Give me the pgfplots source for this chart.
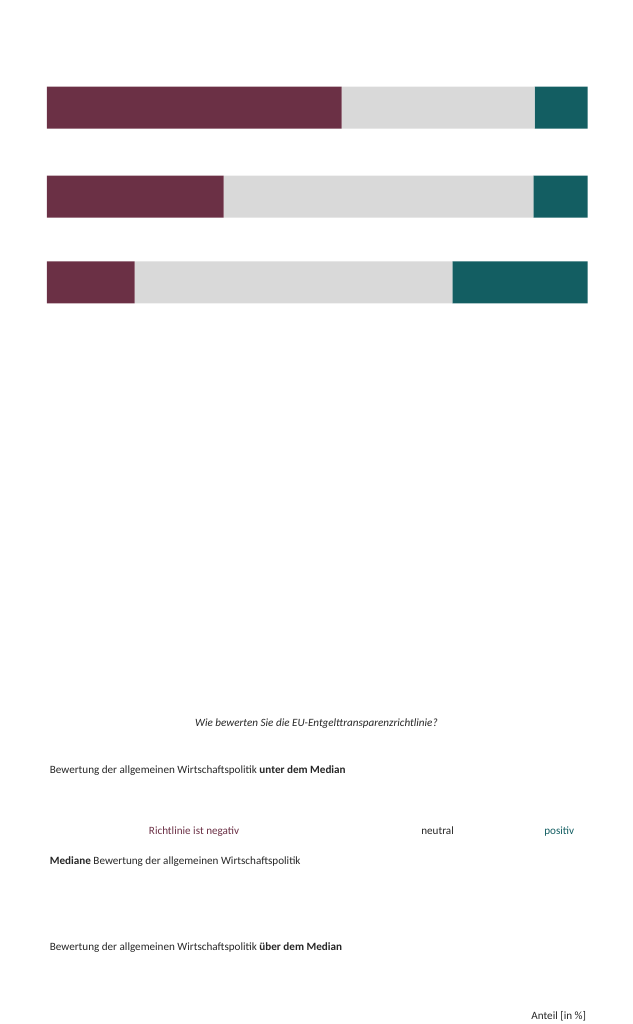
\documentclass[border=0pt]{standalone}
\usepackage{pgfplots}
\pgfplotsset{compat=1.18}
\usepackage{fontspec}
\setmainfont{Carlito}
\definecolor{neg}{HTML}{6B3045}
\definecolor{neu}{HTML}{D9D9D9}
\definecolor{pos}{HTML}{135E62}
\definecolor{txt}{HTML}{262626}
\begin{document}
\begin{tikzpicture}
\path (0,0) rectangle (768pt,422.25pt);
\begin{axis}[at={(57pt,54pt)},anchor=south west,scale only axis,
 width=656pt,height=263.25pt,xmin=0,xmax=100,ymin=-491,ymax=-140,
 hide axis,xbar stacked,bar width=51pt,clip=false]
\addplot[fill=neg,draw=none] coordinates {(54.5,-174) (32.7,-318) (16.2,-457)};
\addplot[fill=neu,draw=none] coordinates {(35.7,-174) (57.3,-318) (58.8,-457)};
\addplot[fill=pos,draw=none] coordinates {(9.8,-174) (10.0,-318) (25.0,-457)};
\node[white,font=\fontsize{13.5}{15}\selectfont] at (axis cs:27.25,-174) {54,5};
\node[txt,font=\fontsize{13.5}{15}\selectfont] at (axis cs:72.35,-174) {35,7};
\node[white,font=\fontsize{13.5}{15}\selectfont] at (axis cs:95.1,-174) {9,8};
\node[white,font=\fontsize{13.5}{15}\selectfont] at (axis cs:16.35,-318) {32,7};
\node[txt,font=\fontsize{13.5}{15}\selectfont] at (axis cs:61.7,-318) {57,3};
\node[white,font=\fontsize{13.5}{15}\selectfont] at (axis cs:95,-318) {10,0};
\node[white,font=\fontsize{13.5}{15}\selectfont] at (axis cs:8.1,-457) {16,2};
\node[txt,font=\fontsize{13.5}{15}\selectfont] at (axis cs:45.6,-457) {58,8};
\node[white,font=\fontsize{13.5}{15}\selectfont] at (axis cs:87.5,-457) {25,0};
\end{axis}
\begin{scope}[x=0.75pt,y=-0.75pt,shift={(0,563)},every node/.style={font=\fontsize{13.5}{15}\selectfont,text=txt}]
\node at (512,45) {\itshape Wie bewerten Sie die EU-Entgelttransparenzrichtlinie?};
\node[anchor=base west] at (76,125) {Bewertung der allgemeinen Wirtschaftspolitik \textbf{unter dem Median}};
\node[anchor=base west] at (76,272) {\textbf{Mediane} Bewertung der allgemeinen Wirtschaftspolitik};
\node[anchor=base west] at (76,412) {Bewertung der allgemeinen Wirtschaftspolitik \textbf{über dem Median}};
\node[anchor=base,text=neg] at (314,225) {Richtlinie ist negativ};
\node[anchor=base] at (708,225) {neutral};
\node[anchor=base,text=pos] at (905,225) {positiv};
\node[anchor=base east] at (953,524) {Anteil [in \%]};
\end{scope}
\end{tikzpicture}
\end{document}
